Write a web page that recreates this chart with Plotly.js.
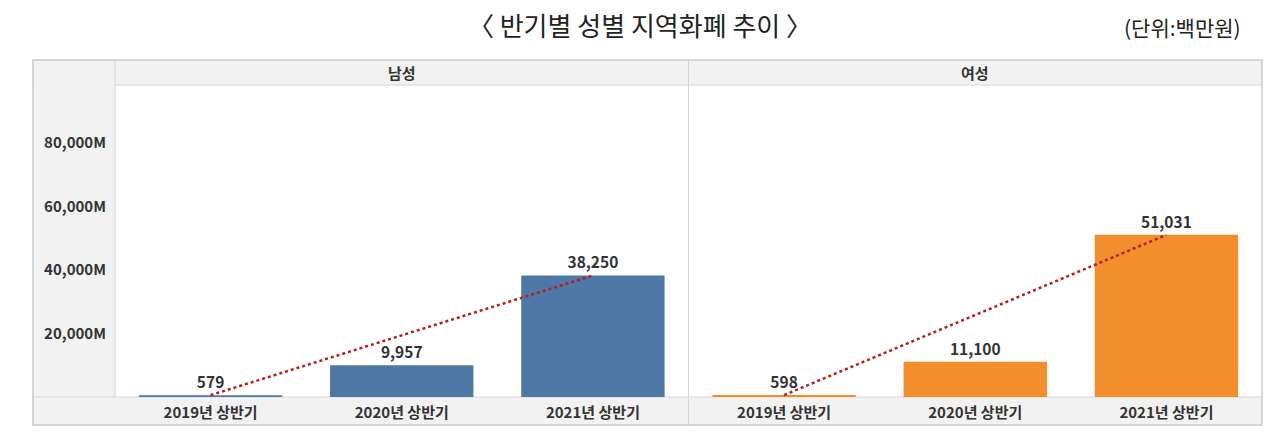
<!DOCTYPE html>
<html>
<head>
<meta charset="utf-8">
<script src="https://cdn.plot.ly/plotly-3.0.1.min.js"></script>
<style>html,body{margin:0;padding:0;background:#fff;}#chart{width:1280px;height:438px;}</style>
</head>
<body>
<div id="chart"></div>
<script>
const categories = ['2019년 상반기', '2020년 상반기', '2021년 상반기'];
const maleValues = [579, 9957, 38250];
const femaleValues = [598, 11100, 51031];
const panelLabels = ['남성', '여성'];
const yTickVals = [20000, 40000, 60000, 80000];
const yTickText = ['20,000M', '40,000M', '60,000M', '80,000M'];
const titleText = '〈 반기별 성별 지역화폐 추이 〉';
const unitText = '(단위:백만원)';

const FONT = '"Noto Sans CJK KR", "Noto Sans", sans-serif';
const fmt = v => v.toLocaleString('en-US');

function barTrace(vals, color, xa) {
  return {
    type: 'bar', x: categories, y: vals, xaxis: xa, yaxis: 'y',
    marker: {color: color},
    text: vals.map(fmt), textposition: 'outside', cliponaxis: false,
    textfont: {family: FONT, size: 15.5, color: '#333', weight: 'bold'},
    hoverinfo: 'x+y', showlegend: false
  };
}
function trendTrace(vals, xa) {
  return {
    type: 'scatter', mode: 'lines', xaxis: xa, yaxis: 'y',
    x: [categories[0], categories[categories.length - 1]],
    y: [vals[0], vals[vals.length - 1]],
    line: {color: '#b41e1e', width: 2.5, dash: 'dot'},
    hoverinfo: 'skip', showlegend: false
  };
}

const data = [
  barTrace(maleValues, '#4e79a7', 'x'),
  barTrace(femaleValues, '#f28e2b', 'x2'),
  trendTrace(maleValues, 'x'),
  trendTrace(femaleValues, 'x2')
];

const L = -0.0715, TOP = 1.0801, BOT = -0.0897;
const grey = '#f2f2f2', lineC = '#d6d6d6';
const xax = {
  type: 'category', showgrid: false, zeroline: false, showline: false,
  ticks: '', ticklabelstandoff: 5, fixedrange: true,
  tickfont: {family: FONT, size: 15, color: '#333', weight: 'bold'}
};

const layout = {
  width: 1280, height: 438,
  margin: {l: 115, r: 18, t: 85, b: 41},
  paper_bgcolor: '#ffffff', plot_bgcolor: 'rgba(0,0,0,0)',
  bargap: 0.25,
  title: {text: titleText, x: 0.5, xanchor: 'center', y: 0.938, yanchor: 'middle',
          font: {family: FONT, size: 26, color: '#222'}},
  xaxis: Object.assign({}, xax, {domain: [0, 0.5], anchor: 'y'}),
  xaxis2: Object.assign({}, xax, {domain: [0.5, 1], anchor: 'y'}),
  yaxis: {
    range: [0, 98200], showgrid: false, zeroline: false, showline: false,
    tickvals: yTickVals, ticktext: yTickText, ticks: '', ticklabelstandoff: 8,
    tickfont: {family: FONT, size: 15, color: '#333', weight: 'bold'}, fixedrange: true
  },
  shapes: [
    {type: 'rect', xref: 'paper', yref: 'paper', x0: L, x1: 1, y0: 1, y1: TOP,
     fillcolor: grey, line: {color: lineC, width: 1}, layer: 'below'},
    {type: 'rect', xref: 'paper', yref: 'paper', x0: L, x1: 0, y0: BOT, y1: TOP,
     fillcolor: grey, line: {color: lineC, width: 1}, layer: 'below'},
    {type: 'rect', xref: 'paper', yref: 'paper', x0: L, x1: 1, y0: BOT, y1: 0,
     fillcolor: grey, line: {color: lineC, width: 1}, layer: 'below'},
    {type: 'line', xref: 'paper', yref: 'paper', x0: 0.5, x1: 0.5, y0: BOT, y1: TOP,
     line: {color: lineC, width: 1}, layer: 'below'},
    {type: 'rect', xref: 'paper', yref: 'paper', x0: L, x1: 1, y0: BOT, y1: TOP,
     fillcolor: 'rgba(0,0,0,0)', line: {color: '#cfcfcf', width: 1.5}, layer: 'below'}
  ],
  annotations: [
    {text: panelLabels[0], xref: 'paper', yref: 'paper', x: 0.25, y: (1 + TOP) / 2,
     xanchor: 'center', yanchor: 'middle', showarrow: false,
     font: {family: FONT, size: 15, color: '#333', weight: 'bold'}},
    {text: panelLabels[1], xref: 'paper', yref: 'paper', x: 0.75, y: (1 + TOP) / 2,
     xanchor: 'center', yanchor: 'middle', showarrow: false,
     font: {family: FONT, size: 15, color: '#333', weight: 'bold'}},
    {text: unitText, xref: 'paper', yref: 'paper', x: 0.983, y: 1.186,
     xanchor: 'right', yanchor: 'middle', showarrow: false,
     font: {family: FONT, size: 21, color: '#222'}}
  ]
};

Plotly.newPlot('chart', data, layout, {displayModeBar: false, staticPlot: true});
</script>
</body>
</html>
